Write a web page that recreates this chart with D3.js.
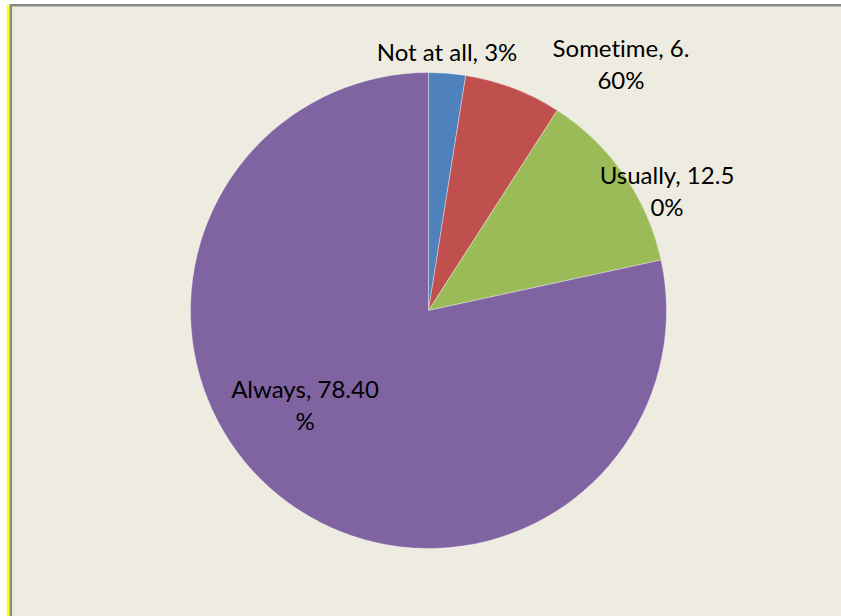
<!DOCTYPE html>
<html>
<head>
<meta charset="utf-8">
<script src="https://cdn.jsdelivr.net/npm/d3@7"></script>
<style>
  html, body { margin: 0; padding: 0; background: #ffffff; }
  svg { display: block; }
</style>
</head>
<body>
<div id="chart"></div>
<script>
'use strict';

// chart data
const categories = ["Not at all", "Sometime", "Usually", "Always"];
const values = [2.5, 6.6, 12.5, 78.4];
const labelLines = [
  ["Not at all, 3%"],
  ["Sometime, 6.", "60%"],
  ["Usually, 12.5", "0%"],
  ["Always, 78.40", "%"]
];
const colors = ["#4F81BD", "#C0504D", "#9BBB59", "#8064A2"];

// label anchor (centre x, first baseline y) for each slice
const labelPos = [[447, 61], [621, 57], [667, 184], [305, 398]];

(function() {
  const width = 841, height = 616;
  const cx = 428.5, cy = 310.5, radius = 238;

  const svg = d3.select('#chart')
    .append('svg')
    .attr('width', width)
    .attr('height', height);

  // chart area background + frame
  svg.append('rect')
    .attr('x', 11).attr('y', 5)
    .attr('width', width - 11).attr('height', height - 5)
    .style('fill', '#EEECE1');

  svg.append('line')
    .attr('x1', 8).attr('y1', 5).attr('x2', 8).attr('y2', height)
    .style('stroke', '#FFFF00').style('stroke-width', 2.4);

  svg.append('path')
    .attr('d', `M10.8,${height} V5.2 H${width}`)
    .style('fill', 'none')
    .style('stroke', '#898989')
    .style('stroke-width', 2.5);

  // pie
  const pie = d3.pie().sort(null).value(d => d.value);
  const arc = d3.arc().innerRadius(0).outerRadius(radius);

  const rows = categories.map((c, i) => ({ name: c, value: values[i], color: colors[i], lines: labelLines[i] }));

  const g = svg.append('g').attr('transform', `translate(${cx},${cy})`);
  g.selectAll('path.slice')
    .data(pie(rows))
    .enter()
    .append('path')
      .attr('class', 'slice')
      .attr('d', arc)
      .style('fill', d => d.data.color)
      .style('stroke', 'rgba(255,255,255,0.45)')
      .style('stroke-width', 0.8);

  // data labels
  const lineHeight = 32;
  rows.forEach((r, i) => {
    const t = svg.append('text')
      .attr('text-anchor', 'middle')
      .style('font-family', 'Lato, "Open Sans", sans-serif')
      .style('font-size', '24px')
      .style('font-variant-ligatures', 'none')
      .style('fill', '#000');
    r.lines.forEach((ln, j) => {
      t.append('tspan')
        .attr('x', labelPos[i][0])
        .attr('y', labelPos[i][1] + j * lineHeight)
        .text(ln);
    });
  });
})();
</script>
</body>
</html>
